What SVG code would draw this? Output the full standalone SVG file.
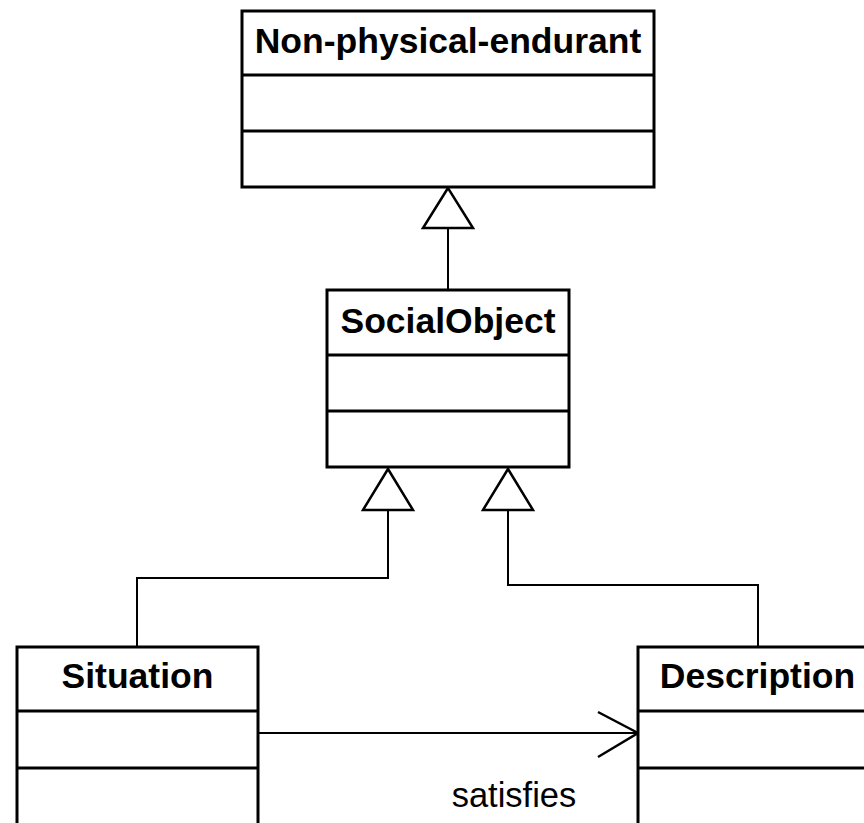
<svg xmlns="http://www.w3.org/2000/svg" width="864" height="823" viewBox="0 0 864 823">
  <style>
    .box { fill: #fff; stroke: #000; stroke-width: 3; }
    .div { stroke: #000; stroke-width: 3; }
    .title { font-family: "Liberation Sans", Arial, sans-serif; font-weight: bold; font-size: 35.5px; text-anchor: middle; fill: #000; }
    .label { font-family: "Liberation Sans", Arial, sans-serif; font-size: 34.5px; text-anchor: middle; fill: #000; }
    .edge { fill: none; stroke: #000; stroke-width: 2; }
    .gen { fill: #fff; stroke: #000; stroke-width: 2.5; stroke-linejoin: miter; }
    .open { fill: none; stroke: #000; stroke-width: 2.5; }
  </style>
  <rect width="864" height="823" fill="#fff"/>

  <g id="connectors">
    <!-- SocialObject generalizes to Non-physical-endurant -->
    <line class="edge" x1="448" y1="228" x2="448" y2="290"/>
    <polygon class="gen" points="448,188 423,228 473,228"/>
    <!-- Situation generalizes to SocialObject -->
    <polyline class="edge" points="137,647 137,578 388,578 388,510"/>
    <polygon class="gen" points="388,469 363,510 413,510"/>
    <!-- Description generalizes to SocialObject -->
    <polyline class="edge" points="758,647 758,585 508,585 508,510"/>
    <polygon class="gen" points="508,469 483,510 533,510"/>
    <!-- satisfies association -->
    <line class="edge" x1="258" y1="733" x2="638" y2="733"/>
    <polyline class="open" points="598,712 638,733 598,757"/>
    <text class="label" x="514" y="807">satisfies</text>
  </g>

  <g id="non-physical-endurant">
    <rect class="box" x="242" y="11" width="412" height="176"/>
    <line class="div" x1="242" y1="75" x2="654" y2="75"/>
    <line class="div" x1="242" y1="131" x2="654" y2="131"/>
    <text class="title" x="448" y="53">Non-physical-endurant</text>
  </g>

  <g id="social-object">
    <rect class="box" x="327" y="290" width="242" height="177"/>
    <line class="div" x1="327" y1="355" x2="569" y2="355"/>
    <line class="div" x1="327" y1="411" x2="569" y2="411"/>
    <text class="title" x="448" y="333">SocialObject</text>
  </g>

  <g id="situation">
    <rect class="box" x="17" y="647" width="241" height="200"/>
    <line class="div" x1="17" y1="711" x2="258" y2="711"/>
    <line class="div" x1="17" y1="768" x2="258" y2="768"/>
    <text class="title" x="137.5" y="688">Situation</text>
  </g>

  <g id="description">
    <rect class="box" x="638" y="647" width="240" height="200"/>
    <line class="div" x1="638" y1="711" x2="878" y2="711"/>
    <line class="div" x1="638" y1="768" x2="878" y2="768"/>
    <text class="title" x="757.5" y="688">Description</text>
  </g>
</svg>
